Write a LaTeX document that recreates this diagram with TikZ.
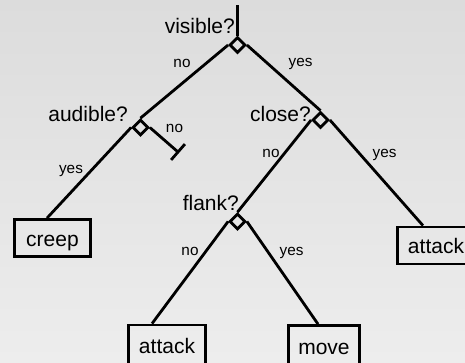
\documentclass[tikz,border=0pt]{standalone}
\usepackage{fontspec}
\setmainfont{Liberation Sans}
\usetikzlibrary{shapes.geometric,calc}
\definecolor{bgtop}{RGB}{220,220,220}
\definecolor{bgbot}{RGB}{237,237,237}
\begin{document}
\begin{tikzpicture}[x=1pt,y=-1pt,
  conn/.style={line width=2.8pt},
  test/.style={diamond,draw,line width=2.8pt,minimum width=16pt,minimum height=16pt,inner sep=0pt,aspect=1},
  leaf/.style={rectangle,draw,line width=2.8pt,minimum height=37pt,inner sep=0pt,text height=20pt,text depth=4pt,font=\fontsize{21}{25}\selectfont},
  qlab/.style={inner sep=0pt,anchor=base east,font=\fontsize{21}{25}\selectfont},
  elab/.style={inner sep=0pt,anchor=base,font=\fontsize{15.3}{18}\selectfont}]
\useasboundingbox (0,0) rectangle (465,362);
\shade[top color=bgtop,bottom color=bgbot] (0,0) rectangle (465,362);
\clip (0,0) rectangle (465,362);

% decision nodes
\node[test] (vis) at (237.5,45) {};
\node[test] (aud) at (140.5,127.5) {};
\node[test] (clo) at (320.5,120) {};
\node[test] (fla) at (237.5,221.5) {};

% leaves
\node[leaf,minimum width=76pt] (creep) at (52.5,238) {creep};
\node[leaf,minimum width=77pt] (att1) at (436,245.5) {attack};
\node[leaf,minimum width=77pt,minimum height=40pt,text height=21.5pt,text depth=4pt] (att2) at (167,345) {attack};
\node[leaf,minimum width=71pt,minimum height=40pt,text height=21.5pt,text depth=4pt] (move) at (324,345.5) {move};

% question labels
\node[qlab] (tvis) at (235,33) {visible?};
\node[qlab] (taud) at (128,121) {audible?};
\node[qlab] (tclo) at (311,121) {close?};
\node[qlab] (tfla) at (239,210) {flank?};

% connectors
\coordinate (top) at (237.5,5);
\coordinate (noend) at (178,152);
\draw[conn] (top) -- (vis.north);
\draw[conn] (vis.west) -- (aud.north);
\draw[conn] (vis.east) -- (clo.north);
\draw[conn] (aud.west) -- ($(creep.north)+(-5.5,0)$);
\draw[conn] (aud.east) -- (noend);
\draw[conn] ($(noend)!10.5pt!90:(aud.east)$) -- ($(noend)!10.5pt!-90:(aud.east)$);
\draw[conn] (clo.west) -- (fla.north);
\draw[conn] (clo.east) -- ($(att1.north)+(-13,0)$);
\draw[conn] (fla.west) -- ($(att2.north)+(-15,0)$);
\draw[conn] (fla.east) -- ($(move.north)+(-6,0)$);

% edge labels
\node[elab] (l1) at (182,67) {no};
\node[elab] (l2) at (300.5,66) {yes};
\node[elab] (l3) at (174.5,132) {no};
\node[elab] (l4) at (71,173) {yes};
\node[elab] (l5) at (271,157) {no};
\node[elab] (l6) at (384.5,157) {yes};
\node[elab] (l7) at (190,255.5) {no};
\node[elab] (l8) at (291.5,255) {yes};
\end{tikzpicture}
\end{document}
